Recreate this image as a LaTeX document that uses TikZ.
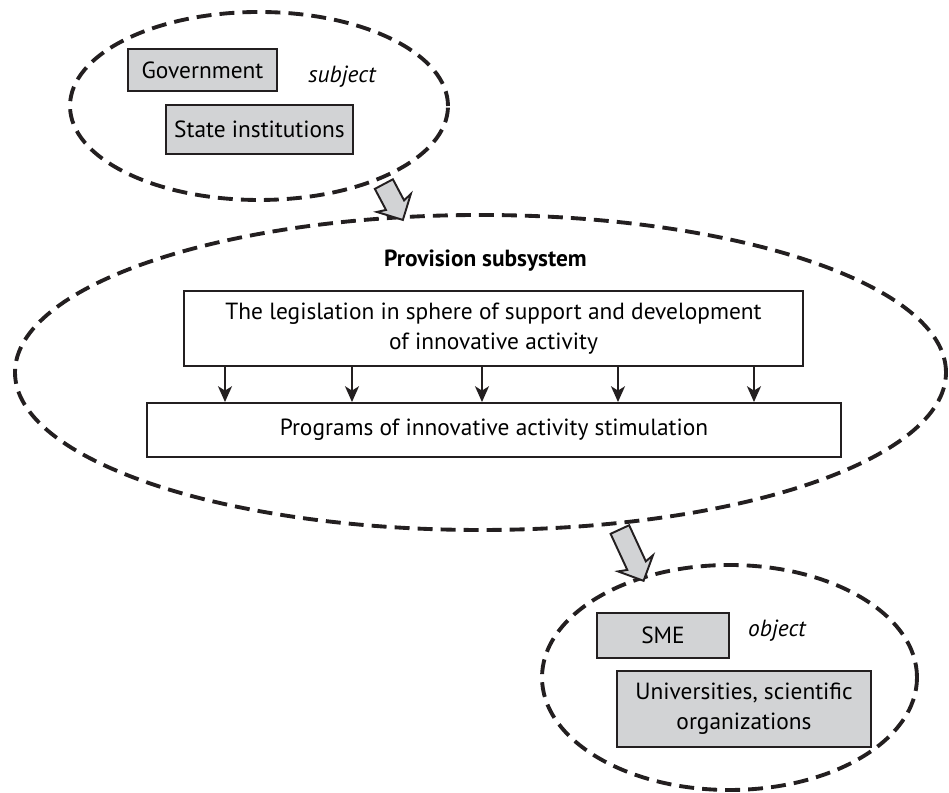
\documentclass[tikz,border=0pt]{standalone}
\usepackage{fontspec}
\setmainfont{PT Sans}
\usetikzlibrary{arrows.meta,calc,positioning,shapes.geometric,shapes.arrows}
\definecolor{inkblack}{RGB}{35,31,32}
\definecolor{boxgray}{RGB}{210,211,213}

\begin{document}
\begin{tikzpicture}[>=Stealth,line join=miter,
  font=\fontsize{13.3}{17}\selectfont,
  zone/.style={ellipse,draw=inkblack,line width=2.2pt,
   dash pattern=on 8.5pt off 4.6pt,inner sep=0pt},
  graybox/.style={draw=inkblack,fill=boxgray,line width=1.1pt,
   inner sep=0pt,align=center},
  whitebox/.style={draw=inkblack,line width=1.1pt,inner sep=0pt,
   align=center},
  tag/.style={font=\fontsize{13.3}{17}\selectfont\itshape},
  blockarrow/.style={single arrow,draw=inkblack,fill=boxgray,
   line width=1.1pt,inner sep=0.185cm,
   single arrow head extend=0.18cm,single arrow head indent=0.05cm,
   sloped,allow upside down}]
 \useasboundingbox (0,0) rectangle (18.98,15.86);
 % zones
 \node[zone,minimum width=7.56cm,minimum height=3.76cm] (subj) at (5.18,13.74) {};
 \node[zone,minimum width=18.62cm,minimum height=6.3cm] (prov) at (9.61,8.41) {};
 \node[zone,minimum width=7.5cm,minimum height=4.5cm] (obj) at (14.59,2.31) {};
 % subject
 \node[graybox,minimum width=2.98cm,minimum height=0.84cm] (gov) at (4.05,14.46) {Government};
 \node[tag] (subjtag) at (6.84,14.32) {subject};
 \node[graybox,minimum width=3.74cm,minimum height=0.98cm] (state) at (5.19,13.27) {State institutions};
 % provision subsystem
 \node[font=\fontsize{13.3}{17}\selectfont\bfseries] (provtag) at (9.71,10.64) {Provision subsystem};
 \node[whitebox,minimum width=12.38cm,minimum height=1.5cm] (legis) at (9.87,9.29)
  {The legislation in sphere of support and development\\of innovative activity};
 \node[whitebox,minimum width=13.88cm,minimum height=1.08cm] (progs) at (9.88,7.26)
  {Programs of innovative activity stimulation};
 \foreach \xa in {4.5,7.04,9.64,12.36,15.08}
  \draw[->,inkblack,line width=0.8pt,>={Stealth[length=9pt,width=8pt,inset=2.5pt]}]
   (\xa,0 |- legis.south) -- (\xa,0 |- progs.north);
 % object
 \node[graybox,minimum width=2.64cm,minimum height=0.9cm] (sme) at (13.26,3.15) {SME};
 \node[tag] (objtag) at (15.54,3.24) {object};
 \node[graybox,minimum width=5.08cm,minimum height=1.52cm] (univ) at (14.88,1.68)
  {Universities, scientific\\organizations};
 % block arrows between zones
 \path let \p1=($(prov.117)-(subj.-31.6)$), \n1={veclen(\x1,\y1)} in
  (subj.-31.6) -- node[blockarrow,minimum height=\n1] (arrA) {} (prov.117);
 \path let \p1=($(obj.131)-(prov.-48.7)$), \n1={veclen(\x1,\y1)} in
  (prov.-48.7) -- node[blockarrow,minimum height=\n1] (arrB) {} (obj.131);
\end{tikzpicture}
\end{document}
